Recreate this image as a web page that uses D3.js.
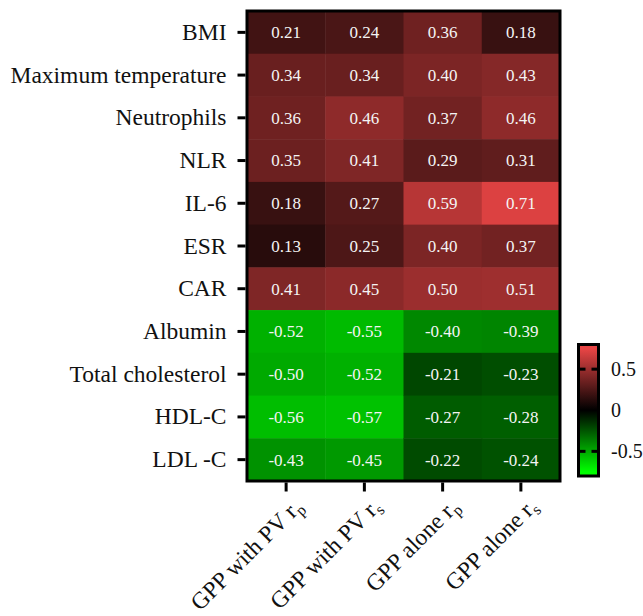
<!DOCTYPE html>
<html>
<head>
<meta charset="utf-8">
<script src="https://cdn.jsdelivr.net/npm/d3@7"></script>
<style>
    body { margin: 0; background: #fff; }
    svg { display: block; font-family: "Liberation Serif", "Times New Roman", serif; }
</style>
</head>
<body>
<div id="heatmap"></div>
<script>
// data
const rowNames = ["BMI", "Maximum temperature", "Neutrophils", "NLR", "IL-6", "ESR", "CAR",
    "Albumin", "Total cholesterol", "HDL-C", "LDL -C"];
const colBase = ["GPP with PV r", "GPP with PV r", "GPP alone r", "GPP alone r"];
const colSub = ["p", "s", "p", "s"];
const pvRp = [0.21, 0.34, 0.36, 0.35, 0.18, 0.13, 0.41, -0.52, -0.50, -0.56, -0.43];
const pvRs = [0.24, 0.34, 0.46, 0.41, 0.27, 0.25, 0.45, -0.55, -0.52, -0.57, -0.45];
const aloneRp = [0.36, 0.40, 0.37, 0.29, 0.59, 0.40, 0.50, -0.40, -0.21, -0.27, -0.22];
const aloneRs = [0.18, 0.43, 0.46, 0.31, 0.71, 0.37, 0.51, -0.39, -0.23, -0.28, -0.24];
const legendTicks = [0.5, 0, -0.5];

const series = [pvRp, pvRs, aloneRp, aloneRs];
const cells = [];
series.forEach(function (vals, c) {
    vals.forEach(function (v, r) {
        cells.push({ row: rowNames[r], col: c, value: v });
    });
});

// plain hyphen for negatives, like the original figure
const fmt2 = v => d3.format('.2f')(v).replace('\u2212', '-');
const fmtLegend = v => String(v);

const width = 643, height = 616;
const svg = d3.select('#heatmap').append('svg')
    .attr('width', width)
    .attr('height', height);

const x = d3.scaleBand().domain(d3.range(colBase.length)).range([247, 560]);
const y = d3.scaleBand().domain(rowNames).range([11, 481]);

const color = d3.scaleLinear()
    .domain([-0.75, 0, 0.75])
    .range(["#00ff00", "#000000", "#e84545"])
    .clamp(true);

// cells
svg.append('g')
    .selectAll('rect')
    .data(cells)
    .join('rect')
    .attr('x', d => x(d.col))
    .attr('y', d => y(d.row))
    .attr('width', x.bandwidth() + 0.5)
    .attr('height', y.bandwidth() + 0.5)
    .attr('fill', d => color(d.value));

svg.append('g')
    .selectAll('text')
    .data(cells)
    .join('text')
    .attr('x', d => x(d.col) + x.bandwidth() / 2)
    .attr('y', d => y(d.row) + y.bandwidth() / 2)
    .attr('dy', '0.35em')
    .attr('text-anchor', 'middle')
    .style('fill', '#f4f4f4')
    .style('font-size', '17px')
    .text(d => fmt2(d.value));

// frame
svg.append('rect')
    .attr('x', 247).attr('y', 11)
    .attr('width', 313).attr('height', 470)
    .attr('fill', 'none')
    .attr('stroke', '#000')
    .attr('stroke-width', 3);

// row axis
const yAxis = svg.append('g')
    .attr('transform', 'translate(245.5,0)')
    .call(d3.axisLeft(y).tickSize(8).tickPadding(11));
yAxis.select('.domain').remove();
yAxis.selectAll('line').attr('stroke-width', 3);
yAxis.selectAll('text')
    .style('font-family', '"Liberation Serif", "Times New Roman", serif')
    .style('font-size', '23.5px')
    .style('fill', '#111');

// column axis
const xAxis = svg.append('g')
    .attr('transform', 'translate(0,482.5)')
    .call(d3.axisBottom(x).tickSize(9).tickFormat(''));
xAxis.select('.domain').remove();
xAxis.selectAll('line').attr('stroke-width', 3);

const xLabels = svg.append('g')
    .selectAll('text')
    .data(colBase)
    .join('text')
    .attr('transform', (d, i) => `translate(${x(i) + x.bandwidth() / 2 + 12},502) rotate(-45)`)
    .attr('text-anchor', 'end')
    .attr('dy', '0.35em')
    .style('font-size', '23.5px')
    .style('fill', '#111');
xLabels.append('tspan').text(d => d);
xLabels.append('tspan')
    .attr('dy', '0.3em')
    .style('font-size', '16px')
    .text((d, i) => colSub[i]);

// colour legend
const lg = { x: 578.5, w: 20, top: 344.5, bottom: 476 };
const ly = d3.scaleLinear().domain([-0.8, 0.8]).range([lg.bottom, lg.top]);

const grad = svg.append('defs').append('linearGradient')
    .attr('id', 'legend-grad')
    .attr('x1', 0).attr('y1', 1).attr('x2', 0).attr('y2', 0);
grad.selectAll('stop')
    .data(d3.range(-0.8, 0.8001, 0.05))
    .join('stop')
    .attr('offset', d => (d + 0.8) / 1.6)
    .attr('stop-color', d => color(d));

svg.append('rect')
    .attr('x', lg.x).attr('y', lg.top)
    .attr('width', lg.w).attr('height', lg.bottom - lg.top)
    .attr('fill', 'url(#legend-grad)')
    .attr('stroke', '#000')
    .attr('stroke-width', 3);

const lt = svg.append('g').selectAll('g')
    .data(legendTicks)
    .join('g')
    .attr('transform', d => `translate(0,${ly(d)})`);
lt.filter(d => d !== 0).append('line')
    .attr('x1', lg.x).attr('x2', lg.x + 7)
    .attr('stroke', '#000').attr('stroke-width', 3);
lt.filter(d => d !== 0).append('line')
    .attr('x1', lg.x + lg.w - 7).attr('x2', lg.x + lg.w)
    .attr('stroke', '#000').attr('stroke-width', 3);
lt.append('text')
    .attr('x', 611)
    .attr('dy', '0.35em')
    .style('font-size', '20px')
    .style('fill', '#111')
    .text(d => fmtLegend(d));
</script>
</body>
</html>
